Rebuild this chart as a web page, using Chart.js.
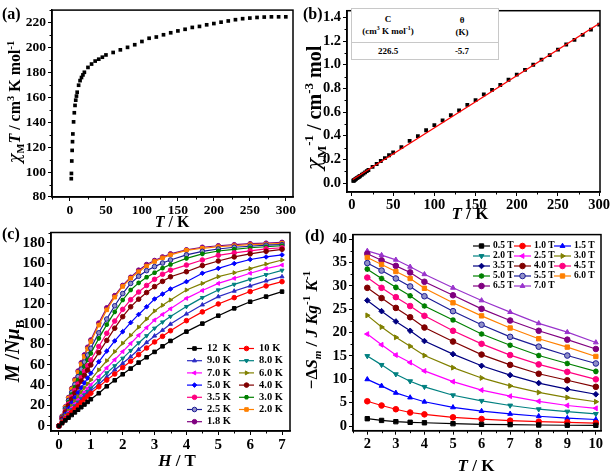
<!DOCTYPE html>
<html>
<head>
<meta charset="utf-8">
<script src="https://cdn.jsdelivr.net/npm/chart.js@4.4.1/dist/chart.umd.min.js"></script>
<style>
  html, body { margin: 0; padding: 0; background: #fff; }
  #fig { position: relative; width: 613px; height: 472px; overflow: hidden; color: #000;
         font-family: 'Liberation Serif', 'Times New Roman', serif; font-weight: bold; }
  #fig canvas { position: absolute; left: 0; top: 0; }
  .lbl { position: absolute; white-space: nowrap; font-size: 15px; line-height: 1; transform: translate(-50%, -50%); }
  .lbl.rot { transform: translate(-50%, -50%) rotate(-90deg); }
  .lbl sub, .lbl sup, .inset sup { font-size: 65%; line-height: 0; }
  .chi { font-family: 'DejaVu Serif', serif; font-style: italic; font-weight: normal; }
  .panel { position: absolute; font-size: 16px; line-height: 1; }
  .inset { position: absolute; left: 351px; top: 8px; width: 146px; height: 50px; border: 1px solid #c8c8c8; background: #fff; font-size: 9px; }
  .inset .hr { position: absolute; left: 0; right: 0; top: 33px; border-top: 1px solid #c8c8c8; }
  .inset span { position: absolute; white-space: nowrap; transform: translate(-50%, -50%); line-height: 1; }
</style>
</head>
<body>
<div id="fig">
  <canvas id="chart-a" width="613" height="472"></canvas>
  <canvas id="chart-b" width="613" height="472"></canvas>
  <canvas id="chart-c" width="613" height="472"></canvas>
  <canvas id="chart-d" width="613" height="472"></canvas>

  <div class="panel" style="left:2px; top:6px;">(a)</div>
  <div class="panel" style="left:303px; top:6px;">(b)</div>
  <div class="panel" style="left:2px; top:226px;">(c)</div>
  <div class="panel" style="left:305px; top:228px;">(d)</div>

  <div class="lbl rot" style="left:15px; top:102px; font-size:16px;"><span class="chi">χ</span><sub>M</sub><i>T</i> / cm<sup>3</sup> K mol<sup>-1</sup></div>
  <div class="lbl" style="left:172px; top:222px; font-size:16px;"><i>T</i> / K</div>
  <div class="lbl rot" style="left:314px; top:108px; font-size:20px;"><span class="chi">χ</span><sub>M</sub><sup>-1</sup> / cm<sup>-3</sup> mol</div>
  <div class="lbl" style="left:470px; top:213px; font-size:17px;"><i>T</i> / K</div>
  <div class="lbl rot" style="left:12px; top:351px; font-size:20px;"><i>M</i> /<i>Nμ</i><sub>B</sub></div>
  <div class="lbl" style="left:177px; top:460px; font-size:17px;"><i>H</i> / T</div>
  <div class="lbl rot" style="left:311px; top:330px; font-size:17px;">−Δ<i>S</i><sub><i>m</i></sub> / <i>J Kg</i><sup>-1</sup> <i>K</i><sup>-1</sup></div>
  <div class="lbl" style="left:476px; top:465px; font-size:17px;"><i>T</i> / K</div>

  <div class="inset">
    <span style="left:36px; top:10px;">C</span>
    <span style="left:36px; top:22px;">(cm<sup>3</sup> K mol<sup>-1</sup>)</span>
    <span style="left:110px; top:11px;">θ</span>
    <span style="left:110px; top:23px;">(K)</span>
    <div class="hr"></div>
    <span style="left:36px; top:42px;">226.5</span>
    <span style="left:110px; top:42px;">-5.7</span>
  </div>
</div>

<script>
// ---- (a) chi_M T vs T ----
const tempA = [1.8, 2, 2.5, 3, 3.5, 4, 5, 6, 7, 8, 9, 10, 12, 14, 16, 18, 20, 25, 30, 35, 40, 45, 50,
  60, 70, 80, 90, 100, 110, 120, 130, 140, 150, 160, 170, 180, 190, 200, 210, 220, 230, 240, 250, 260, 270, 280, 290, 300];
const chiT = [94.7, 98.9, 108.9, 117.4, 124.4, 130.6, 140.3, 147.6, 153.5, 157.7, 161, 164.1, 169.7, 173.4, 175.9, 178, 180.1, 184, 186.7, 189.1, 190.6, 192.2, 194,
  196, 198.1, 200.1, 202.2, 204.8, 207.4, 208.4, 210.2, 211.8, 213.3, 214.6, 216.1, 216.9, 218.2, 219.2, 220.3, 221.3, 222.3, 223.1, 223.6, 224.1, 224.4, 224.6, 224.6, 224.6];

// ---- (b) 1/chi_M vs T with Curie-Weiss fit ----
const invChi = [0.019, 0.020, 0.023, 0.026, 0.028, 0.031, 0.036, 0.041, 0.045, 0.050, 0.055, 0.060, 0.070, 0.080, 0.090, 0.100, 0.110, 0.136, 0.161, 0.186, 0.211, 0.235, 0.258,
  0.304, 0.356, 0.397, 0.446, 0.489, 0.530, 0.574, 0.614, 0.661, 0.701, 0.750, 0.788, 0.829, 0.873, 0.916, 0.957, 1.000, 1.044, 1.082, 1.128, 1.171, 1.210, 1.253, 1.297, 1.340];
const fitT = [1, 301];
const fitInvChi = [0.030, 1.353];

// ---- (c) M vs H ----
const fieldH = [0, 0.1, 0.2, 0.3, 0.4, 0.5, 0.6, 0.7, 0.8, 0.9, 1.0, 1.25, 1.5, 1.75, 2.0, 2.25, 2.5, 2.75, 3.0, 3.25, 3.5, 4.0, 4.5, 5.0, 5.5, 6.0, 6.5, 7.0];
const mag12K = [0, 2.7, 5.4, 8.1, 10.7, 13.3, 15.9, 18.4, 21, 23.6, 26.2, 32.1, 38.9, 44.8, 50.7, 56.3, 62.2, 67.4, 72.7, 78.2, 83.5, 92.6, 100.5, 108.3, 115.5, 122, 127, 131.9];
const mag10K = [0, 3.4, 6.8, 10.2, 13.5, 16.8, 20, 23.1, 26.2, 29.2, 32.1, 38.5, 45, 51, 57.3, 63.5, 70, 76.5, 82.5, 88, 93.5, 103.4, 112, 119.8, 126, 132, 137.5, 141.7];
const mag9K = [0, 3.7, 7.4, 11, 14.6, 18.1, 21.5, 24.9, 28.1, 31.3, 34.4, 41, 48, 55, 61.5, 68, 75, 82, 88.4, 94, 100, 110, 119, 127, 132.5, 137.5, 142.5, 146.6];
const mag8K = [0, 4, 8, 11.9, 15.8, 19.6, 23.3, 26.9, 30.4, 33.8, 37, 44.5, 52, 59, 66.4, 74, 81.5, 88.5, 95.9, 102, 107.5, 117.2, 126, 133.5, 139, 144, 148.5, 152.8];
const mag7K = [0, 4.4, 8.8, 13.1, 17.3, 21.4, 25.4, 29.3, 33.1, 36.8, 40.3, 48.5, 57, 65, 73, 81, 89, 96.5, 104, 109.5, 115, 125.3, 133, 140, 145, 150, 154.5, 158];
const mag6K = [0, 5, 10, 14.8, 19.6, 24.3, 28.8, 33.2, 37.3, 41.3, 45.2, 55, 64, 73, 81.2, 89, 97, 105, 112.9, 118.5, 123.7, 133.5, 140, 146.6, 150.5, 154.5, 159, 163];
const mag5K = [0, 5.8, 11.5, 17, 22.5, 27.7, 32.7, 37.5, 42.2, 47, 51.7, 63, 73.5, 83.5, 92.6, 101.5, 109.5, 117, 124.7, 129.5, 134.5, 141.7, 150, 154.8, 159.5, 163.5, 166, 168];
const mag4K = [0, 6.8, 13.5, 20, 26.3, 32.3, 38.2, 44, 49.5, 54.8, 59.9, 72, 84, 96, 107.3, 117, 124.5, 131, 136.8, 142, 146.5, 151.5, 157.5, 162, 166, 169, 171.5, 173.5];
const mag3p5K = [0, 7.3, 14.5, 21.5, 28.3, 34.8, 41.2, 47.4, 53.4, 59.2, 64.8, 78, 91, 103, 114.5, 124, 131.5, 138, 144, 149, 153, 158, 163, 167.6, 170, 172, 174, 175];
const mag3K = [0, 8, 15.8, 23.4, 30.8, 38, 45, 51.8, 58.4, 64.9, 71.3, 86, 99.5, 112, 123.7, 133.5, 140.5, 146, 150.5, 155, 158.5, 164.6, 169, 171.8, 173.5, 175, 176, 177];
const mag2p5K = [0, 8.5, 16.8, 25, 33, 40.8, 48.4, 55.8, 62.8, 69.7, 76.3, 91.5, 105, 118, 130, 140, 147, 152.5, 156.5, 160, 163, 168, 171.5, 173.8, 175.5, 176.5, 177.5, 178];
const mag2K = [0, 9.2, 18.3, 27.2, 35.9, 44.4, 52.6, 60.6, 68.3, 75.7, 82.8, 99, 114, 126.5, 137, 145, 151.5, 157, 161.5, 165, 168, 172.5, 174.5, 176, 177, 178, 178.5, 179.3];
const mag1p8K = [0, 9.5, 18.8, 27.9, 36.8, 45.5, 53.9, 62, 69.8, 77.3, 84.4, 101, 116, 128, 138, 146, 153, 158.5, 162.5, 166, 169, 173, 175.5, 177, 178, 179, 179.5, 180.3];

// ---- (d) -dS_m vs T ----
const tempD = [2, 2.5, 3, 3.5, 4, 5, 6, 7, 8, 9, 10];
const ds05T = [1.57, 1.2, 0.93, 0.8, 0.7, 0.5, 0.36, 0.3, 0.22, 0.17, 0.15];
const ds10T = [5.3, 4.4, 3.6, 2.9, 2.5, 1.86, 1.5, 1.15, 0.93, 0.8, 0.64];
const ds15T = [10, 8.6, 7.1, 6.1, 5.2, 4.0, 3.2, 2.6, 2.1, 1.7, 1.4];
const ds20T = [15, 13.1, 11.1, 9.6, 8.4, 6.6, 5.4, 4.4, 3.6, 3.1, 2.6];
const ds25T = [19.7, 17.4, 15.2, 13.6, 11.8, 9.5, 7.7, 6.4, 5.3, 4.4, 3.8];
const ds30T = [23.7, 21.2, 19.0, 17.1, 15.1, 12.5, 10.3, 8.6, 7.2, 6.1, 5.2];
const ds35T = [26.9, 24.6, 22.4, 20.4, 18.2, 15.4, 12.9, 10.9, 9.2, 7.9, 6.8];
const ds40T = [29.6, 27.4, 25.3, 23.3, 21.1, 18.1, 15.3, 13.1, 11.2, 9.8, 8.4];
const ds45T = [31.8, 29.6, 27.6, 25.7, 23.6, 20.4, 17.6, 15.2, 13.2, 11.6, 10.0];
const ds50T = [33.6, 31.6, 29.7, 27.9, 25.7, 22.7, 19.7, 17.3, 15.1, 13.4, 11.7];
const ds55T = [34.9, 33.3, 31.6, 29.9, 27.8, 24.6, 21.7, 19.1, 17.0, 15.1, 13.4];
const ds60T = [36.1, 34.6, 33.1, 31.6, 29.5, 26.4, 23.6, 21.0, 18.7, 16.9, 14.9];
const ds65T = [36.9, 35.5, 34.3, 32.9, 30.9, 28.0, 25.1, 22.6, 20.4, 18.5, 16.5];
const ds70T = [37.5, 36.6, 35.6, 34.1, 32.5, 29.6, 26.9, 24.4, 22.0, 20.1, 17.9];

// tick labels
const ticksAX = [0, 50, 100, 150, 200, 250, 300];
const ticksAY = [80, 100, 120, 140, 160, 180, 200, 220];
const ticksBX = [0, 50, 100, 150, 200, 250, 300];
const ticksBY = [0, 0.2, 0.4, 0.6, 0.8, 1.0, 1.2, 1.4];
const ticksCX = [0, 1, 2, 3, 4, 5, 6, 7];
const ticksCY = [0, 20, 40, 60, 80, 100, 120, 140, 160, 180];
const ticksDX = [2, 3, 4, 5, 6, 7, 8, 9, 10];
const ticksDY = [0, 5, 10, 15, 20, 25, 30, 35, 40];

// series label, data, colour, marker, rotation, fill
const magSeries = [
  ['12  K', mag12K, '#000000', 'rect', 0, null],
  ['10 K', mag10K, '#ff0000', 'circle', 0, null],
  ['9.0 K', mag9K, '#2a2ac4', 'triangle', 0, null],
  ['8.0 K', mag8K, '#008080', 'triangle', 180, null],
  ['7.0 K', mag7K, '#ff00ff', 'triangle', -90, null],
  ['6.0 K', mag6K, '#808000', 'triangle', 90, null],
  ['5.0 K', mag5K, '#0000ff', 'rectRot', 0, null],
  ['4.0 K', mag4K, '#800000', 'circle', 0, null],
  ['3.5 K', mag3p5K, '#ff0080', 'circle', 0, null],
  ['3.0 K', mag3K, '#008000', 'star', 0, null],
  ['2.5 K', mag2p5K, '#1c1c96', 'circle', 0, '#9090c8'],
  ['2.0 K', mag2K, '#ff8000', 'rect', 0, null],
  ['1.8 K', mag1p8K, '#800080', 'circle', 0, null],
];
const entropySeries = [
  ['0.5 T', ds05T, '#000000', 'rect', 0, null],
  ['1.0 T', ds10T, '#ff0000', 'circle', 0, null],
  ['1.5 T', ds15T, '#0000ff', 'triangle', 0, null],
  ['2.0 T', ds20T, '#008080', 'triangle', 180, null],
  ['2.5 T', ds25T, '#ff00ff', 'triangle', -90, null],
  ['3.0 T', ds30T, '#808000', 'triangle', 90, null],
  ['3.5 T', ds35T, '#000080', 'rectRot', 0, null],
  ['4.0 T', ds40T, '#800000', 'circle', 0, null],
  ['4.5 T', ds45T, '#ff0080', 'circle', 0, null],
  ['5.0 T', ds50T, '#008000', 'star', 0, null],
  ['5.5 T', ds55T, '#1c1c96', 'circle', 0, '#9090c8'],
  ['6.0 T', ds60T, '#ff8000', 'rect', 0, null],
  ['6.5 T', ds65T, '#800080', 'circle', 0, null],
  ['7.0 T', ds70T, '#9933cc', 'triangle', 0, null],
];

const toPoints = (xs, ys) => xs.map((x, i) => ({ x, y: ys[i] }));

// box around the plot + minor ticks between the major ones
const framePlugin = {
  id: 'frame',
  afterDraw(chart) {
    const { ctx, chartArea: a, scales } = chart;
    ctx.save();
    ctx.strokeStyle = '#000';
    ctx.lineWidth = 1.5;
    ctx.strokeRect(a.left, a.top, a.right - a.left, a.bottom - a.top);
    ctx.lineWidth = 1;
    const minors = (sc) => {
      const v = sc.ticks.map(t => t.value);
      const out = [];
      const step = v[1] - v[0];
      for (let i = 0; i < v.length - 1; i++) out.push((v[i] + v[i + 1]) / 2);
      if (v[0] - step / 2 >= sc.min) out.push(v[0] - step / 2);
      if (v[v.length - 1] + step / 2 <= sc.max) out.push(v[v.length - 1] + step / 2);
      return out;
    };
    ctx.beginPath();
    minors(scales.x).forEach(val => {
      const px = Math.round(scales.x.getPixelForValue(val)) + 0.5;
      ctx.moveTo(px, a.bottom); ctx.lineTo(px, a.bottom + 2.5);
    });
    minors(scales.y).forEach(val => {
      const py = Math.round(scales.y.getPixelForValue(val)) + 0.5;
      ctx.moveTo(a.left, py); ctx.lineTo(a.left - 2.5, py);
    });
    ctx.stroke();
    ctx.restore();
  }
};

// legend laid out in a fixed grid inside the plot
const gridLegend = {
  id: 'gridLegend',
  afterDraw(chart, args, o) {
    if (!o || !o.cols) return;
    const ctx = chart.ctx;
    const drawPoint = Chart.helpers && Chart.helpers.drawPoint;
    ctx.save();
    ctx.font = `bold ${o.size}px "Liberation Serif", serif`;
    ctx.textBaseline = 'middle';
    chart.data.datasets.forEach((ds, i) => {
      const col = i % o.cols, row = Math.floor(i / o.cols);
      const x = o.colX[col], y = o.y0 + row * o.rowH;
      ctx.strokeStyle = ds.borderColor;
      ctx.lineWidth = ds.borderWidth;
      ctx.beginPath(); ctx.moveTo(x, y); ctx.lineTo(x + o.lineLen, y); ctx.stroke();
      ctx.fillStyle = ds.pointBackgroundColor;
      ctx.lineWidth = ds.pointBorderWidth;
      if (drawPoint) {
        drawPoint(ctx, { pointStyle: ds.pointStyle, rotation: ds.pointRotation || 0, radius: ds.pointRadius, borderWidth: ds.pointBorderWidth }, x + o.lineLen / 2, y);
      }
      ctx.fillStyle = '#000';
      ctx.fillText(ds.label, x + o.lineLen + o.gap, y);
    });
    ctx.restore();
  }
};

function scale(min, max, ticksArr, fmt, size, isX) {
  return {
    type: 'linear', min, max,
    afterBuildTicks: s => { s.ticks = ticksArr.map(v => ({ value: v })); },
    afterFit: s => { if (isX) s.height = 30; else s.width = 50; },
    border: { display: true, color: '#000', width: 1.5 },
    grid: { drawOnChartArea: false, drawTicks: true, tickLength: 4, color: '#000', lineWidth: 1 },
    ticks: {
      autoSkip: false, maxRotation: 0, padding: isX ? 1 : 2, color: '#000',
      font: { family: 'Liberation Serif', weight: 'bold', size },
      callback: fmt
    }
  };
}

// area = [left, top, right, bottom] of the plot box in page pixels
function makeChart(id, area, datasets, xScale, yScale, legendOpts) {
  const [l, t, r, b] = area;
  return new Chart(document.getElementById(id), {
    type: 'scatter',
    data: { datasets },
    options: {
      responsive: false,
      animation: false,
      devicePixelRatio: 1,
      layout: { padding: { left: l - 50, top: t, right: 613 - r, bottom: 472 - b - 30 } },
      plugins: { legend: { display: false }, tooltip: { enabled: false }, gridLegend: legendOpts || {} },
      scales: { x: xScale, y: yScale },
    },
    plugins: [framePlugin, gridLegend],
  });
}

const lineDatasets = (xs, series, radius) => series.map(([label, ys, color, style, rot, fill]) => ({
  label,
  data: toPoints(xs, ys),
  showLine: true,
  borderColor: color,
  borderWidth: 1.2,
  pointStyle: style,
  pointRotation: rot,
  pointRadius: style === 'rect' ? radius * 1.1 : radius,
  pointBackgroundColor: fill || color,
  pointBorderColor: color,
  pointBorderWidth: style === 'star' ? 1.6 : 1,
}));

makeChart('chart-a', [52, 3, 293, 197], [{
  label: 'chiT',
  data: toPoints(tempA, chiT),
  pointStyle: 'rect', pointRadius: 2.6, pointBackgroundColor: '#000', pointBorderWidth: 0,
}], scale(-25, 310, ticksAX, v => v, 13.5, true), scale(80, 230, ticksAY, v => v, 13.5, false));

makeChart('chart-b', [347, 4, 600, 192], [{
  label: 'fit',
  data: toPoints(fitT, fitInvChi),
  showLine: true, borderColor: '#ff0000', borderWidth: 1.3, pointRadius: 0,
}, {
  label: 'invChi',
  data: toPoints(tempA, invChi),
  pointStyle: 'rect', pointRadius: 2.7, pointBackgroundColor: '#000', pointBorderWidth: 0,
}], scale(-6, 301, ticksBX, v => v, 14.5, true), scale(-0.076, 1.457, ticksBY, v => v.toFixed(1), 14.5, false));

makeChart('chart-c', [51, 232.5, 290, 431], lineDatasets(fieldH, magSeries, 2.3),
  scale(-0.25, 7.25, ticksCX, v => v, 15, true), scale(-5, 190, ticksCY, v => v, 15, false),
  { cols: 2, colX: [187, 239], y0: 348.5, rowH: 12.2, lineLen: 15, gap: 5, size: 10.5 });

makeChart('chart-d', [353, 234.6, 601, 430.7], lineDatasets(tempD, entropySeries, 2.8),
  scale(1.5, 10.18, ticksDX, v => v, 14.5, true), scale(-1, 41, ticksDY, v => v, 14.5, false),
  { cols: 3, colX: [473, 514, 554], y0: 246, rowH: 10, lineLen: 17, gap: 3, size: 9.5 });
</script>
</body>
</html>
